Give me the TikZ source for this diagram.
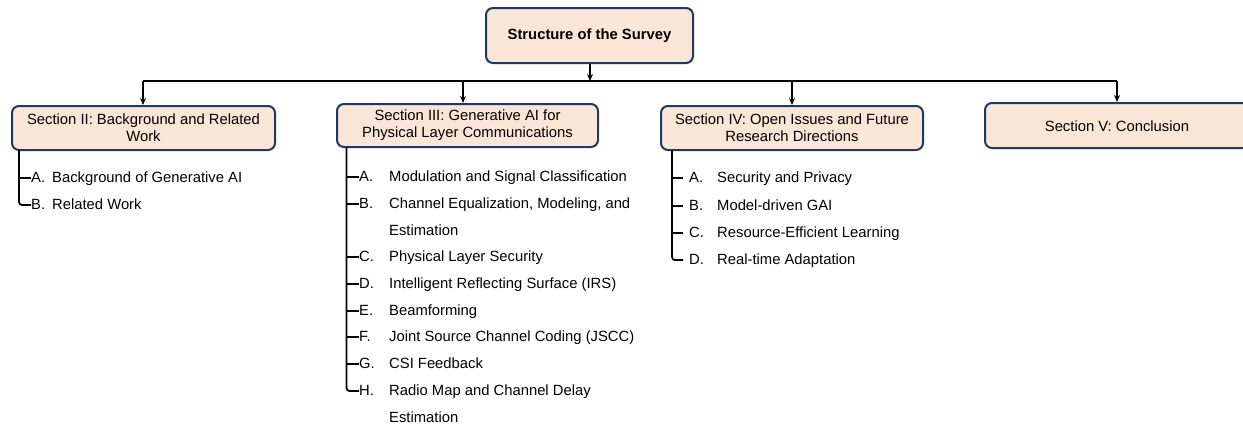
\documentclass[tikz,border=0pt]{standalone}
\usepackage{fontspec}
\setmainfont{Liberation Sans}
\usetikzlibrary{arrows.meta}
\definecolor{boxfill}{HTML}{FBE5D6}
\definecolor{boxline}{HTML}{1F3864}
\begin{document}
\begin{tikzpicture}[x=1pt,y=-1pt,
  secbox/.style={draw=boxline,fill=boxfill,line width=2pt,rounded corners=7pt,inner sep=0pt,align=center,font=\fontsize{14.8}{17}\selectfont},
  item/.style={anchor=west,inner sep=0pt,text height=11pt,text depth=2pt,font=\fontsize{14.8}{17}\selectfont},
  conn/.style={black,line width=1.8pt},
  arr/.style={conn,-{Stealth[length=7pt,width=6pt]}},
  branch/.style={black,line width=1.8pt,rounded corners=3pt}]
\useasboundingbox (0,0) rectangle (1243,426);
\clip (0,0) rectangle (1243,426);
% boxes
\node[secbox,minimum width=207pt,minimum height=55pt,font=\bfseries\fontsize{14.8}{17}\selectfont] (top) at (589.5,35.5) {Structure of the Survey};
\node[secbox,minimum width=263pt,minimum height=44pt] (s2) at (143.5,128) {Section II: Background and Related\\Work};
\node[secbox,minimum width=261pt,minimum height=43pt] (s3) at (467.5,125.5) {Section III: Generative AI for\\Physical Layer Communications};
\node[secbox,minimum width=262pt,minimum height=44pt] (s4) at (792,128) {Section IV: Open Issues and Future\\Research Directions};
\node[secbox,minimum width=264pt,minimum height=45pt] (s5) at (1117,125.5) {};
\node[inner sep=0pt,font=\fontsize{14.8}{17}\selectfont] (s5t) at (1117,126) {Section V: Conclusion};
% bus
\coordinate (j0) at (590,81);
\coordinate (b2) at (143,81);
\coordinate (b3) at (463,81);
\coordinate (b4) at (792,81);
\coordinate (b5) at (1117,81);
\draw[arr] (j0 |- top.south) -- (j0);
\draw[conn] (b2) -- (b5);
\draw[arr] (b2) -- (b2 |- s2.north);
\draw[arr] (b3) -- (b3 |- s3.north);
\draw[arr] (b4) -- (s4.north);
\draw[arr] (b5) -- (s5.north);
% Section II items
\node[item] (a2) at (31,178) {A.};
\node[item] at (52,178) {Background of Generative AI};
\node[item] (bb2) at (31,205) {B.};
\node[item] at (52,205) {Related Work};
\coordinate (v2) at (19,150);
\draw[conn] (v2 |- a2) -- (a2.west);
\draw[branch] (v2) |- (bb2.west);
% Section III items
\coordinate (v3) at (346.5,147);
\node[item] (a3) at (359,177) {A.};
\node[item] at (389,177) {Modulation and Signal Classification};
\node[item] (b3i) at (359,204) {B.};
\node[item] at (389,204) {Channel Equalization, Modeling, and};
\node[item] at (389,231) {Estimation};
\node[item] (c3) at (359,257) {C.};
\node[item] at (389,257) {Physical Layer Security};
\node[item] (d3) at (359,284) {D.};
\node[item] at (389,284) {Intelligent Reflecting Surface (IRS)};
\node[item] (e3) at (359,311) {E.};
\node[item] at (389,311) {Beamforming};
\node[item] (f3) at (359,337) {F.};
\node[item] at (389,337) {Joint Source Channel Coding (JSCC)};
\node[item] (g3) at (359,364) {G.};
\node[item] at (389,364) {CSI Feedback};
\node[item] (h3) at (359,391) {H.};
\node[item] at (389,391) {Radio Map and Channel Delay};
\node[item] at (389,418) {Estimation};
\foreach \n in {a3,b3i,c3,d3,e3,f3,g3}{\draw[conn] (v3 |- \n) -- (\n.west);}
\draw[branch] (v3) |- (h3.west);
% Section IV items
\coordinate (v4) at (672,150);
\coordinate (a4t) at (683,178);
\coordinate (b4t) at (683,206);
\coordinate (c4t) at (683,233);
\coordinate (d4t) at (683,260);
\node[item] (a4) at (689,178) {A.};
\node[item] at (717,178) {Security and Privacy};
\node[item] (b4i) at (689,206) {B.};
\node[item] at (717,206) {Model-driven GAI};
\node[item] (c4) at (689,233) {C.};
\node[item] at (717,233) {Resource-Efficient Learning};
\node[item] (d4) at (689,260) {D.};
\node[item] at (717,260) {Real-time Adaptation};
\foreach \n in {a4t,b4t,c4t}{\draw[conn] (v4 |- \n) -- (\n);}
\draw[branch] (v4) |- (d4t);
\end{tikzpicture}
\end{document}
